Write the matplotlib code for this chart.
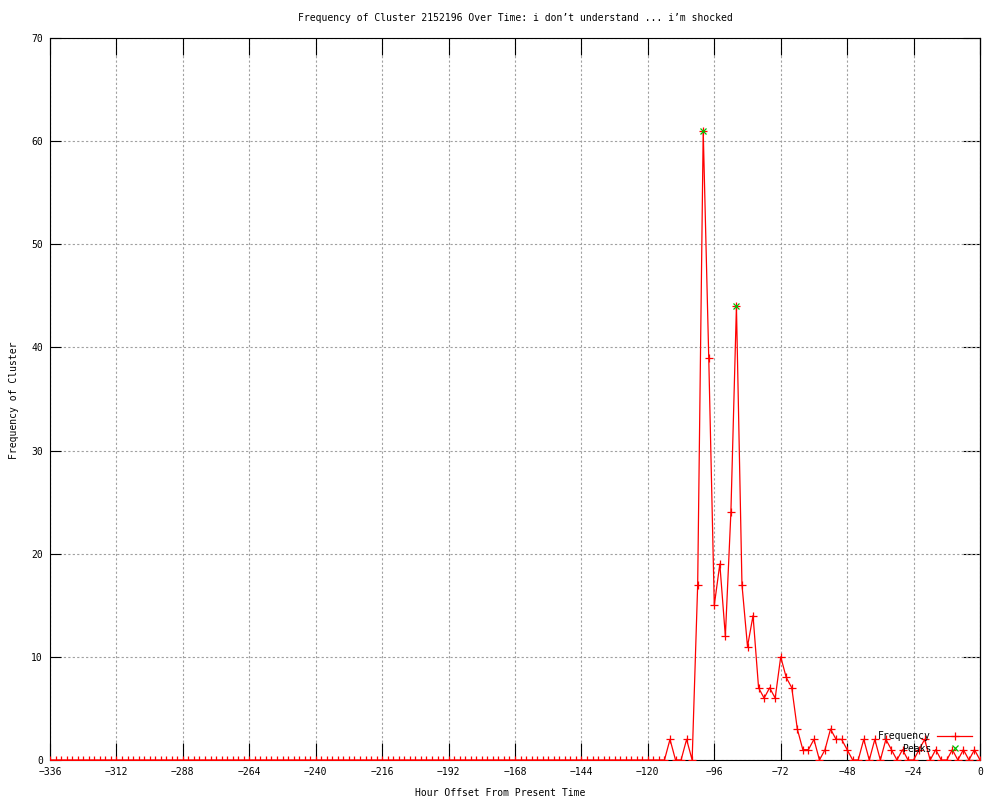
import matplotlib
matplotlib.use("Agg")
import matplotlib.pyplot as plt
import numpy as np

title = "Frequency of Cluster 2152196 Over Time: i don\u2019t understand ... i\u2019m shocked"
xlabel = "Hour Offset From Present Time"
ylabel = "Frequency of Cluster"

hours = list(range(-336, 1, 2))
frequency = [
    0, 0, 0, 0, 0, 0, 0, 0, 0, 0, 0, 0, 0, 0, 0, 0,   # -336 .. -306
    0, 0, 0, 0, 0, 0, 0, 0, 0, 0, 0, 0, 0, 0, 0, 0,   # -304 .. -274
    0, 0, 0, 0, 0, 0, 0, 0, 0, 0, 0, 0, 0, 0, 0, 0,   # -272 .. -242
    0, 0, 0, 0, 0, 0, 0, 0, 0, 0, 0, 0, 0, 0, 0, 0,   # -240 .. -210
    0, 0, 0, 0, 0, 0, 0, 0, 0, 0, 0, 0, 0, 0, 0, 0,   # -208 .. -178
    0, 0, 0, 0, 0, 0, 0, 0, 0, 0, 0, 0, 0, 0, 0, 0,   # -176 .. -146
    0, 0, 0, 0, 0, 0, 0, 0, 0, 0, 0, 0, 0, 0, 0, 0,   # -144 .. -114
    2, 0, 0, 2, 0, 17, 61, 39, 15, 19, 12, 24, 44, 17, 11, 14,  # -112 .. -82
    7, 6, 7, 6, 10, 8, 7, 3, 1, 1, 2, 0, 1, 3, 2, 2,           # -80 .. -50
    1, 0, 0, 2, 0, 2, 0, 2, 1, 0, 1, 0, 0, 1, 2, 0,            # -48 .. -18
    1, 0, 0, 1, 0, 1, 0, 1, 0,                                 # -16 .. 0
]
peak_hours = [-100, -88]
peak_values = [61, 44]

xticks = list(range(-336, 1, 24))
yticks = list(range(0, 71, 10))

plt.rcParams['font.family'] = ['DejaVu Sans Mono']
plt.rcParams['font.size'] = 7

fig = plt.figure(figsize=(10, 8), dpi=100)
ax = fig.add_axes([0.05, 0.05, 0.93, 0.9025])

ax.plot(hours, frequency, color='#ff0000', lw=0.9, marker='+', ms=6, mew=0.9,
        label='Frequency', zorder=3)
ax.plot(peak_hours, peak_values, linestyle='none', color='#00c000', marker='x',
        ms=5, mew=0.9, label='Peaks', zorder=4)

ax.set_xlim(-336, 0)
ax.set_ylim(0, 70)
ax.set_xticks(xticks)
ax.set_yticks(yticks)
ax.grid(True, color='#a0a0a0', linestyle=(0, (2, 2)), linewidth=0.8)
ax.set_axisbelow(True)

ax.tick_params(axis='x', direction='in', length=12, width=0.8, top=True,
               pad=5, labelsize=7)
ax.tick_params(axis='y', direction='in', length=8, width=0.8, right=False,
               pad=5, labelsize=7)
sec = ax.secondary_yaxis('right')
sec.set_yticks(yticks)
sec.set_yticklabels([])
sec.tick_params(direction='in', length=12, width=0.8)
sec.spines['right'].set_linewidth(0.8)

for s in ax.spines.values():
    s.set_linewidth(0.8)

fig.text(0.515, 0.977, title, ha='center', va='center', fontsize=7)
fig.text(0.5, 0.009, xlabel, ha='center', va='center', fontsize=7)
fig.text(0.014, 0.5, ylabel, ha='center', va='center', rotation=90, fontsize=7)

ax.legend(loc='lower right', bbox_to_anchor=(0.972, 0.058),
          bbox_transform=fig.transFigure, frameon=False, markerfirst=False,
          handlelength=3.6, handletextpad=0.6, labelspacing=0.25,
          borderpad=0, borderaxespad=0, fontsize=7)

fig.savefig("out.png", dpi=100)
